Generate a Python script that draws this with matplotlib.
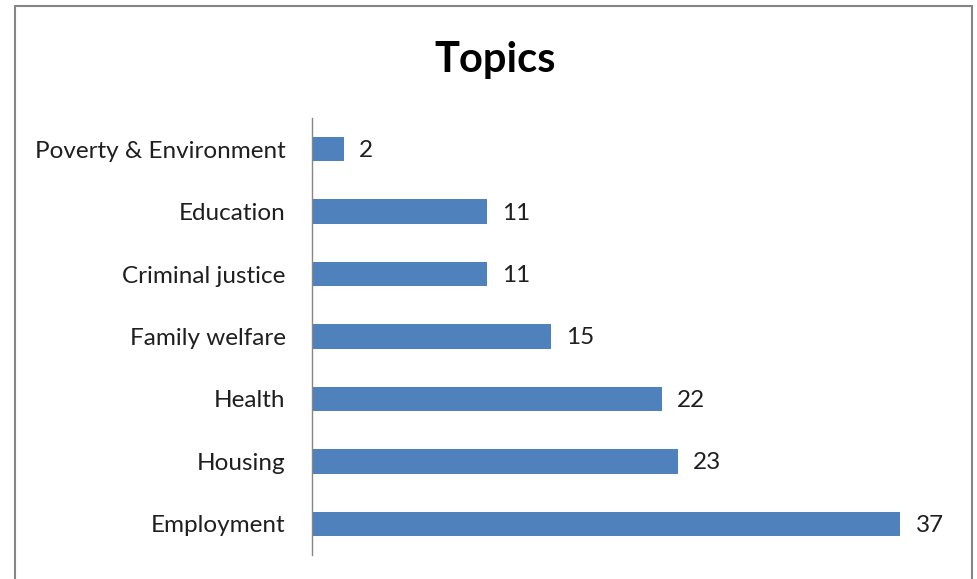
import matplotlib.pyplot as plt
from matplotlib.patches import Rectangle

categories = ["Employment", "Housing", "Health", "Family welfare",
              "Criminal justice", "Education", "Poverty & Environment"]
counts = [37, 23, 22, 15, 11, 11, 2]

bar_color = "#4f81bd"
text_color = "#1f1f1f"

plt.rcParams['font.family'] = ['Lato', 'DejaVu Sans']

fig = plt.figure(figsize=(9.77, 5.79), dpi=100)

# outer chart frame
frame = Rectangle((15 / 977, -0.05), (972 - 15) / 977, 1.05 - 6 / 579,
                  transform=fig.transFigure, fill=False,
                  edgecolor="#868686", linewidth=1.5, clip_on=False)
fig.add_artist(frame)

ax = fig.add_axes([312 / 977, 1 - 555 / 579, (948 - 312) / 977, (555 - 118) / 579])
ypos = range(len(categories))
bars = ax.barh(ypos, counts, height=0.39, color=bar_color)

ax.set_xlim(0, 40)
ax.set_ylim(-0.5, len(categories) - 0.5)
ax.set_yticks(list(ypos))
ax.set_yticklabels(categories, fontsize=17.5, color=text_color)
ax.tick_params(axis='y', length=0, pad=19)
ax.set_xticks([])

for side in ["top", "right", "bottom"]:
    ax.spines[side].set_visible(False)
ax.spines["left"].set_color("#868686")
ax.spines["left"].set_linewidth(1)

for rect, val in zip(bars, counts):
    ax.annotate(str(val), (rect.get_width(), rect.get_y() + rect.get_height() / 2),
                xytext=(11, -1), textcoords="offset points",
                ha="left", va="center", fontsize=17.5, color=text_color)

fig.text(495 / 977, 1 - 60 / 579, "Topics", ha="center", va="center",
         fontsize=30, fontweight="bold", color="#000000")

fig.savefig("out.png", dpi=100)
